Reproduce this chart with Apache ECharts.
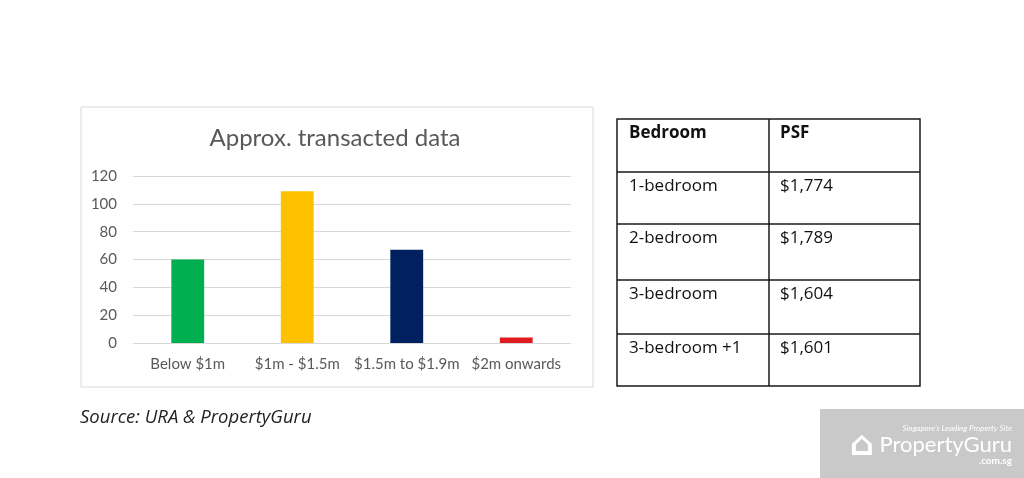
<!DOCTYPE html>
<html><head><meta charset="utf-8">
<script src="https://cdn.jsdelivr.net/npm/echarts@6/dist/echarts.min.js"></script>
<style>html,body{margin:0;padding:0;background:#fff}#c{width:1024px;height:478px}</style>
</head><body><div id="c"></div>
<script>
var categories = ['Below $1m', '$1m - $1.5m', '$1.5m to $1.9m', '$2m onwards'];
var values = [60, 109, 67, 4];
var barColors = ['#00b050', '#ffc000', '#002060', '#e01b22'];
var yTicks = [0, 20, 40, 60, 80, 100, 120];
var tableHeader = ['Bedroom', 'PSF'];
var tableBedrooms = ['1-bedroom', '2-bedroom', '3-bedroom', '3-bedroom +1'];
var tablePsf = ['$1,774', '$1,789', '$1,604', '$1,601'];
var chartTitle = 'Approx. transacted data';
var sourceText = 'Source: URA & PropertyGuru';

var FONT = 'Lato, "Open Sans", sans-serif';
var TFONT = '"Open Sans", Lato, sans-serif';
var chart = echarts.init(document.getElementById('c'));

var tX0 = 617, tX1 = 769, tX2 = 920;
var rowEdges = [119, 172, 224, 280, 334, 386];
var g = [];
g.push({type:'rect', shape:{x:81, y:107, width:512, height:280}, style:{fill:'none', stroke:'#d9d9d9', lineWidth:1}, z:0});
g.push({type:'text', x:335, y:138, style:{text:chartTitle, fill:'#595959', font:'24px ' + FONT, textAlign:'center', textVerticalAlign:'middle'}});
var rows = [tableHeader].concat(tableBedrooms.map(function(b,i){return [b, tablePsf[i]];}));
g.push({type:'rect', shape:{x:tX0, y:rowEdges[0], width:tX2-tX0, height:rowEdges[rowEdges.length-1]-rowEdges[0]}, style:{fill:'none', stroke:'#1a1a1a', lineWidth:1.5}});
g.push({type:'line', shape:{x1:tX1, y1:rowEdges[0], x2:tX1, y2:rowEdges[rowEdges.length-1]}, style:{stroke:'#1a1a1a', lineWidth:1.5}});
for (var i = 1; i < rowEdges.length - 1; i++) {
  g.push({type:'line', shape:{x1:tX0, y1:rowEdges[i], x2:tX2, y2:rowEdges[i]}, style:{stroke:'#1a1a1a', lineWidth:1.5}});
}
rows.forEach(function(r, i){
  var font = (i === 0 ? 'bold ' : '') + '17px ' + TFONT;
  g.push({type:'text', x:tX0 + 12, y:rowEdges[i] + 14, style:{text:r[0], fill:'#111', font:font, textVerticalAlign:'middle'}});
  g.push({type:'text', x:tX1 + 11, y:rowEdges[i] + 14, style:{text:r[1], fill:'#111', font:font, textVerticalAlign:'middle'}});
});
g.push({type:'text', x:80, y:418, style:{text:sourceText, fill:'#222', font:'italic 18.5px ' + TFONT, textVerticalAlign:'middle'}});
g.push({type:'rect', shape:{x:820, y:409, width:204, height:69}, style:{fill:'#c9c9c9'}});
g.push({type:'text', x:1012, y:428, style:{text:"Singapore's Leading Property Site", fill:'#fff', font:'italic 8px ' + FONT, textAlign:'right', textVerticalAlign:'middle'}});
g.push({type:'text', x:1012, y:445, style:{text:'PropertyGuru', fill:'#fff', font:'22px ' + FONT, textAlign:'right', textVerticalAlign:'middle'}});
g.push({type:'text', x:1012, y:461, style:{text:'.com.sg', fill:'#fff', font:'bold 10px ' + FONT, textAlign:'right', textVerticalAlign:'middle'}});
g.push({type:'text', x:862, y:446, style:{text:'⌂', fill:'#fff', font:'bold 34px "DejaVu Sans"', textAlign:'center', textVerticalAlign:'middle'}});

chart.setOption({
  animation: false,
  grid: {left:133, right:453, top:176, bottom:135, containLabel:false},
  xAxis: {
    type:'category', data:categories,
    axisLine:{show:false}, axisTick:{show:false},
    axisLabel:{color:'#595959', fontSize:15, fontFamily:FONT, margin:14, interval:0}
  },
  yAxis: {
    type:'value', min:0, max:120, interval:20,
    axisLine:{show:false}, axisTick:{show:false},
    splitLine:{lineStyle:{color:'#d9d9d9', width:1}},
    axisLabel:{color:'#595959', fontSize:15, fontFamily:FONT, margin:16}
  },
  series: [{
    type:'bar', barWidth:'30%',
    data: values.map(function(v,i){return {value:v, itemStyle:{color:barColors[i]}};})
  }],
  graphic: g
});
</script></body></html>
